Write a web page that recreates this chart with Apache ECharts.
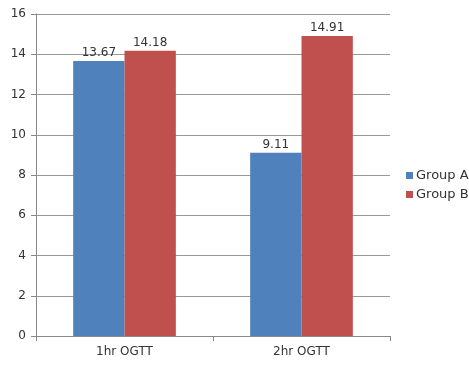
<!DOCTYPE html>
<html>
<head>
<meta charset="utf-8">
<script src="https://cdn.jsdelivr.net/npm/echarts@6/dist/echarts.min.js"></script>
<style>
  html, body { margin: 0; padding: 0; background: #fff; }
  #chart { width: 469px; height: 365px; }
</style>
</head>
<body>
<div id="chart"></div>
<script>
// OGTT results per group
const categories = ['1hr OGTT', '2hr OGTT'];
const groupA = [13.67, 9.11];
const groupB = [14.18, 14.91];
const seriesNames = ['Group A', 'Group B'];
const yTicks = [0, 2, 4, 6, 8, 10, 12, 14, 16];

const chart = echarts.init(document.getElementById('chart'), null, { renderer: 'canvas' });
const font = 'DejaVu Sans';
const labelStyle = {
  show: true,
  position: 'top',
  color: '#333',
  fontFamily: font,
  fontSize: 12,
  distance: 2
};

chart.setOption({
  animation: false,
  textStyle: { fontFamily: font },
  grid: { left: 36, right: 79, top: 14, bottom: 29, containLabel: false },
  legend: {
    orient: 'vertical',
    left: 401,
    top: 164,
    itemWidth: 7,
    itemHeight: 7,
    itemGap: 6,
    icon: 'rect',
    textStyle: { color: '#333', fontSize: 13, fontFamily: font, padding: [0, 0, 0, -2] },
    data: seriesNames
  },
  xAxis: {
    type: 'category',
    data: categories,
    axisLine: { lineStyle: { color: '#888' } },
    axisTick: { show: true, length: 5, lineStyle: { color: '#888' } },
    axisLabel: { color: '#333', fontSize: 12, fontFamily: font, margin: 10 }
  },
  yAxis: {
    type: 'value',
    min: yTicks[0],
    max: yTicks[yTicks.length - 1],
    interval: 2,
    axisLine: { show: true, lineStyle: { color: '#888' } },
    axisTick: { show: true, length: 5, lineStyle: { color: '#888' } },
    splitLine: { lineStyle: { color: '#999' } },
    axisLabel: { color: '#333', fontSize: 12, fontFamily: font, margin: 10 }
  },
  series: [
    {
      name: seriesNames[0],
      type: 'bar',
      data: groupA,
      itemStyle: { color: '#4F81BD' },
      barGap: '0%',
      barCategoryGap: '42%',
      label: labelStyle
    },
    {
      name: seriesNames[1],
      type: 'bar',
      data: groupB,
      itemStyle: { color: '#C0504D' },
      label: labelStyle
    }
  ]
});
</script>
</body>
</html>
